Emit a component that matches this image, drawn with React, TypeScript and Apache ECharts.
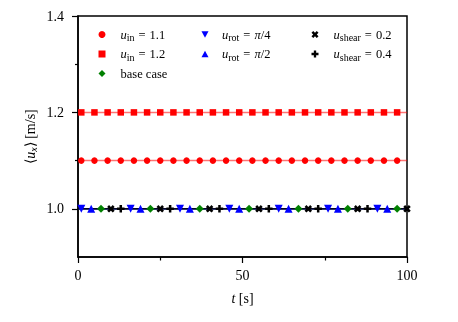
import React, { useEffect, useRef } from "react";
import * as echarts from "echarts";

// ---- data ----
const tRange = [0, 100];
const markerTimesIn11 = [1, 5, 9, 13, 17, 21, 25, 29, 33, 37, 41, 45, 49, 53, 57, 61, 65, 69, 73, 77, 81, 85, 89, 93, 97];
const markerTimesIn12 = [1, 5, 9, 13, 17, 21, 25, 29, 33, 37, 41, 45, 49, 53, 57, 61, 65, 69, 73, 77, 81, 85, 89, 93, 97];
const markerTimesBase = [7, 22, 37, 52, 67, 82, 97];
const markerTimesRot1 = [1, 16, 31, 46, 61, 76, 91];
const markerTimesRot2 = [4, 19, 34, 49, 64, 79, 94];
const markerTimesShear1 = [10, 25, 40, 55, 70, 85, 100];
const markerTimesShear2 = [13, 28, 43, 58, 73, 88];

const uxIn11 = 1.1;
const uxIn12 = 1.2;
const uxBase = 1.0;
const uxRot1 = 1.0;
const uxRot2 = 1.0;
const uxShear1 = 1.0;
const uxShear2 = 1.0;

const yMajorTicks = [1.0, 1.2, 1.4];
const yMinorTicks = [1.1, 1.3];
const xMajorTicks = [0, 50, 100];
const xMinorTicks = [25, 75];

const FONT = "Liberation Serif";

const PLUS = "path://M-1,-3H1V-1H3V1H1V3H-1V1H-3V-1H-1Z";
const CROSS = "path://M2,-4L4,-2L2,0L4,2L2,4L0,2L-2,4L-4,2L-2,0L-4,-2L-2,-4L0,-2Z";
const TRI_DOWN = "path://M0,0L2,0L1,1.8Z";
const TRI_UP = "path://M1,0L2,1.8L0,1.8Z";
const DIAMOND = "path://M1,0L2,1L1,2L0,1Z";

type Case = {
  name: string;
  label: string;
  times: number[];
  value: number;
  color: string;
  lineColor: string;
  symbol: string;
  size: number;
};

const cases: Case[] = [
  { name: "in11", label: "{sp|}{u|u}{s|in}{eq|=}{t|1.1}", times: markerTimesIn11, value: uxIn11, color: "#ff0000", lineColor: "rgba(255,0,0,0.55)", symbol: "circle", size: 6.5 },
  { name: "in12", label: "{sp|}{u|u}{s|in}{eq|=}{t|1.2}", times: markerTimesIn12, value: uxIn12, color: "#ff0000", lineColor: "rgba(255,0,0,0.55)", symbol: "rect", size: 6.5 },
  { name: "base", label: "{sp|}{t|base case}", times: markerTimesBase, value: uxBase, color: "#008000", lineColor: "rgba(0,128,0,0.55)", symbol: DIAMOND, size: 8 },
  { name: "rot1", label: "{sp2|}{u|u}{s|rot}{eq|=}{u|π}{t|/4}", times: markerTimesRot1, value: uxRot1, color: "#0000ff", lineColor: "rgba(0,0,255,0.55)", symbol: TRI_DOWN, size: 8 },
  { name: "rot2", label: "{sp2|}{u|u}{s|rot}{eq|=}{u|π}{t|/2}", times: markerTimesRot2, value: uxRot2, color: "#0000ff", lineColor: "rgba(0,0,255,0.55)", symbol: TRI_UP, size: 8 },
  { name: "sh1", label: "{sp|}{u|u}{s|shear}{eq|=}{t|0.2}", times: markerTimesShear1, value: uxShear1, color: "#000000", lineColor: "rgba(0,0,0,0.6)", symbol: CROSS, size: 7.5 },
  { name: "sh2", label: "{sp|}{u|u}{s|shear}{eq|=}{t|0.4}", times: markerTimesShear2, value: uxShear2, color: "#000000", lineColor: "rgba(0,0,0,0.6)", symbol: PLUS, size: 7.5 },
];

const labelMap: Record<string, string> = {};
const iconMap: Record<string, string> = {};
cases.forEach((c) => {
  labelMap[c.name] = c.label;
  iconMap[c.name] = c.symbol;
});

const legendRich = {
  sp: { width: 10 },
  sp2: { width: 8.5 },
  u: { fontFamily: FONT, fontSize: 12.5, fontStyle: "italic", color: "#000" },
  s: { fontFamily: FONT, fontSize: 10, color: "#000", padding: [6, 0, 0, 0] },
  eq: { fontFamily: FONT, fontSize: 12.5, color: "#000", padding: [0, 4, 0, 4] },
  t: { fontFamily: FONT, fontSize: 12.5, color: "#000" },
};

function makeLegend(names: string[], left: number) {
  return {
    data: names.map((n) => ({ name: n, icon: iconMap[n] })),
    orient: "vertical",
    left,
    top: 23,
    itemWidth: 7,
    itemHeight: 7,
    itemGap: 5,
    selectedMode: false,
    formatter: (n: string) => labelMap[n],
    textStyle: { fontFamily: FONT, fontSize: 12.5, color: "#000", rich: legendRich },
  };
}

export default function App() {
  const ref = useRef<HTMLDivElement>(null);
  useEffect(() => {
    document.body.style.margin = "0";
    const chart = echarts.init(ref.current!, null, { renderer: "svg" });
    const series: any[] = [];
    cases.forEach((c) => {
      series.push({
        type: "line",
        name: c.name + "-line",
        data: tRange.map((t) => [t, c.value]),
        showSymbol: false,
        symbol: "none",
        lineStyle: { color: c.lineColor, width: 1.5 },
        silent: true,
        z: 2,
      });
    });
    cases.forEach((c) => {
      series.push({
        type: "scatter",
        name: c.name,
        data: c.times.map((t) => [t, c.value]),
        symbol: c.symbol,
        symbolSize: c.size,
        itemStyle: { color: c.color, opacity: 1 },
        z: 3,
      });
    });
    const axisLineStyle = { color: "#000", width: 1.5 };
    const tickStyle = { color: "#000", width: 1.2 };
    chart.setOption({
      animation: false,
      grid: { left: 78, right: 51, top: 16, bottom: 65, show: true, borderColor: "#000", borderWidth: 1.5, backgroundColor: "transparent" },
      legend: [
        makeLegend(["in11", "in12", "base"], 93.5),
        makeLegend(["rot1", "rot2"], 196.5),
        makeLegend(["sh1", "sh2"], 306.5),
      ],
      xAxis: [
        {
          type: "value", min: 0, max: 100, interval: 25, position: "bottom",
          axisLine: { show: true, lineStyle: axisLineStyle },
          axisTick: { show: true, customValues: xMinorTicks, length: 3.5, lineStyle: tickStyle },
          axisLabel: { show: false },
          splitLine: { show: false },
          name: "{i|t} [s]",
          nameLocation: "middle",
          nameGap: 34,
          nameTextStyle: { fontFamily: FONT, fontSize: 14, color: "#000", rich: { i: { fontFamily: FONT, fontSize: 14, fontStyle: "italic", color: "#000" } } },
        },
        {
          type: "value", min: 0, max: 100, interval: 25, position: "bottom",
          axisLine: { show: false },
          axisTick: { show: true, customValues: xMajorTicks, length: 6, lineStyle: tickStyle },
          axisLabel: { show: true, customValues: xMajorTicks, fontFamily: FONT, fontSize: 14, color: "#000", margin: 11 },
          splitLine: { show: false },
        },
      ],
      yAxis: [
        {
          type: "value", min: 0.9, max: 1.4, position: "left",
          axisLine: { show: true, lineStyle: axisLineStyle },
          axisTick: { show: true, customValues: yMinorTicks, length: 3, lineStyle: tickStyle },
          axisLabel: { show: false },
          splitLine: { show: false },
          name: "⟨{i|u}{x|x}⟩ [m/s]",
          nameLocation: "middle",
          nameGap: 40,
          nameRotate: 90,
          nameTextStyle: {
            fontFamily: FONT, fontSize: 14, color: "#000",
            rich: {
              i: { fontFamily: FONT, fontSize: 14, fontStyle: "italic", color: "#000" },
              x: { fontFamily: FONT, fontSize: 10, fontStyle: "italic", color: "#000", padding: [6, 0, 0, 0] },
            },
          },
        },
        {
          type: "value", min: 0.9, max: 1.4, position: "left",
          axisLine: { show: false },
          axisTick: { show: true, customValues: yMajorTicks, length: 6, lineStyle: tickStyle },
          axisLabel: { show: true, customValues: yMajorTicks, formatter: (v: number) => v.toFixed(1), fontFamily: FONT, fontSize: 14, color: "#000", margin: 14 },
          splitLine: { show: false },
        },
      ],
      series,
    });
    return () => chart.dispose();
  }, []);
  return <div ref={ref} style={{ position: "fixed", left: 0, top: 0, width: 458, height: 322 }} />;
}
